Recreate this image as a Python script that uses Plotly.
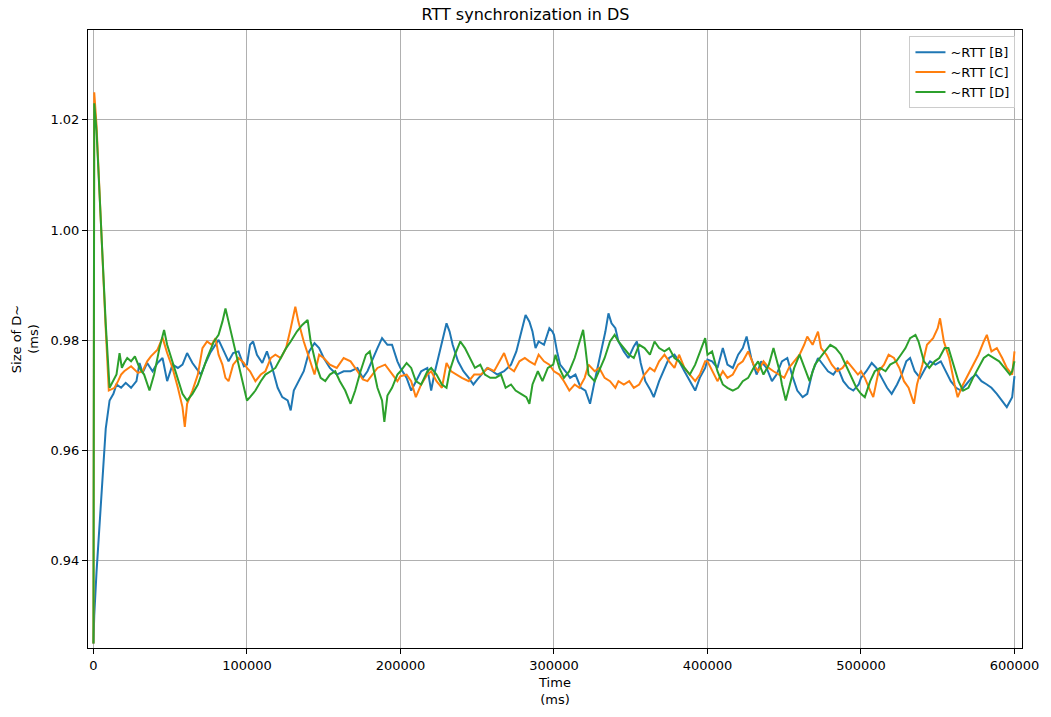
import plotly.graph_objects as go

# ~RTT [B]
b_time = [0, 500, 2000, 4000, 6000, 8000, 10500, 13000, 15000, 18000, 21000, 24500, 28000, 30000, 32000, 35000, 38500, 41700, 45000, 48000, 51500, 55000, 58000, 61000, 64500, 67000, 70000, 73000, 76000, 79500, 81500, 85000, 88000, 91000, 94500, 98000,
          100000, 102000, 104000, 106500, 110000, 113000, 116500, 120000, 123000, 126500, 128500, 130500, 133500, 137000, 140500, 144000, 147000, 150000, 154000, 158500, 163000, 167500, 172000, 175500, 178500, 182000, 185000, 188000, 191500, 194500, 198000,
          200000, 204000, 207000, 210000, 213500, 217500, 220000, 222000, 225000, 227500, 230000, 232000, 234000, 237500, 241000, 244500, 247500, 250000, 253000, 256500, 260000, 263000, 267500, 272000, 275500, 278500, 281500, 284000, 286000, 288000, 290000, 293500, 297000, 299000,
          300000, 302000, 304000, 307500, 310500, 314000, 317500, 320500, 323500, 326500, 330000, 333500, 335500, 337500, 340000, 342000, 345500, 348500, 352000, 354000, 356500, 359500, 363000, 365000, 368500, 371500, 375000, 378500, 381500, 385000, 388500, 392000, 395000, 398500,
          400000, 403000, 406500, 410000, 413000, 416500, 420000, 423000, 425500, 428500, 432000, 435000, 438500, 442000, 445000, 448500, 452000, 455000, 458500, 462000, 465000, 468500, 472000, 475000, 478500, 482000, 485000, 488500, 492000, 495000, 498500,
          500000, 503500, 507000, 510000, 513500, 517000, 520000, 523500, 526500, 529500, 532000, 535000, 538500, 542000, 545000, 548500, 552000, 555000, 558500, 562000, 565000, 568500, 572000, 575000, 578500, 582000, 585000, 588500, 592000, 595000, 598500, 600000]
b_rtt = [0.925, 0.930, 0.938, 0.947, 0.957, 0.964, 0.9691, 0.9703, 0.9720, 0.9714, 0.9723, 0.9714, 0.9726, 0.9759, 0.9741, 0.9759, 0.9744, 0.9759, 0.9768, 0.9726, 0.9756, 0.9750, 0.9756, 0.9777, 0.9759, 0.9750, 0.9738, 0.9759, 0.9777, 0.9792, 0.9801, 0.9780, 0.9762, 0.9777, 0.9780, 0.9753,
         0.9756, 0.9792, 0.9798, 0.9774, 0.9759, 0.9780, 0.9750, 0.9714, 0.9697, 0.9691, 0.9673, 0.9709, 0.9726, 0.9744, 0.9780, 0.9795, 0.9786, 0.9768, 0.9750, 0.9738, 0.9744, 0.9744, 0.9750, 0.9732, 0.9744, 0.9768, 0.9786, 0.9804, 0.9792, 0.9792, 0.9762,
         0.9750, 0.9732, 0.9709, 0.9726, 0.9744, 0.9750, 0.9709, 0.9738, 0.9774, 0.9804, 0.9831, 0.9816, 0.9792, 0.9762, 0.9744, 0.9732, 0.9720, 0.9729, 0.9738, 0.9750, 0.9744, 0.9738, 0.9744, 0.9756, 0.9780, 0.9816, 0.9846, 0.9834, 0.9816, 0.9786, 0.9798, 0.9792, 0.9822, 0.9816,
         0.9810, 0.9780, 0.9756, 0.9744, 0.9732, 0.9738, 0.9714, 0.9709, 0.9685, 0.9726, 0.9768, 0.9816, 0.9849, 0.9831, 0.9822, 0.9798, 0.9780, 0.9768, 0.9789, 0.9798, 0.9759, 0.9726, 0.9709, 0.9697, 0.9726, 0.9744, 0.9768, 0.9774, 0.9762, 0.9744, 0.9726, 0.9709, 0.9732, 0.9750,
         0.9765, 0.9762, 0.9750, 0.9786, 0.9756, 0.9750, 0.9774, 0.9786, 0.9807, 0.9768, 0.9738, 0.9762, 0.9750, 0.9726, 0.9738, 0.9762, 0.9768, 0.9738, 0.9709, 0.9697, 0.9703, 0.9744, 0.9768, 0.9756, 0.9744, 0.9738, 0.9750, 0.9726, 0.9714, 0.9709, 0.9720,
         0.9732, 0.9744, 0.9759, 0.9750, 0.9732, 0.9714, 0.9703, 0.9720, 0.9738, 0.9762, 0.9768, 0.9744, 0.9732, 0.9750, 0.9762, 0.9756, 0.9762, 0.9744, 0.9726, 0.9714, 0.9709, 0.9720, 0.9732, 0.9738, 0.9726, 0.9720, 0.9714, 0.9703, 0.9691, 0.9679, 0.9697, 0.9735]

# ~RTT [C]
c_time = [0, 500, 2000, 5000, 8000, 10000, 13700, 16000, 18000, 20000, 24500, 29000, 32000, 35000, 37400, 41700, 45000, 48000, 51500, 55000, 58000, 59500, 61000, 64500, 68000, 71000, 74000, 77000, 79500, 81500, 84000, 86000, 88000, 91000, 94500, 98000,
          100000, 102000, 105500, 109000, 112000, 115500, 118500, 122000, 125500, 128500, 131500, 133500, 137000, 140500, 144000, 147000, 150000, 154000, 158500, 163000, 167500, 172000, 175500, 178500, 182000, 185000, 190000, 194500, 198000,
          200000, 204000, 207000, 210000, 213500, 217500, 220000, 223500, 227000, 230000, 233000, 236500, 240000, 244500, 248000, 252500, 257000, 261000, 264500, 267500, 271000, 274000, 277500, 281000, 284000, 287500, 290000, 293500, 297000,
          300000, 303500, 306500, 310000, 313500, 316500, 320000, 322500, 326500, 329500, 333000, 336500, 340000, 342000, 345500, 349000, 352000, 355500, 359000, 362500, 365500, 368500, 372000, 375000, 378500, 381500, 385000, 388500, 392000, 395000, 398500,
          400000, 403000, 406500, 410000, 413000, 416500, 420000, 423000, 426500, 430000, 433000, 436500, 440000, 443000, 447000, 450000, 453000, 456500, 460000, 463000, 465000, 468500, 472000, 474000, 477500, 481000, 484500, 488000, 491000, 494500, 498000,
          500000, 502500, 506000, 508000, 511500, 515000, 518000, 521500, 525000, 528000, 531000, 534500, 536500, 540000, 543000, 547000, 550000, 551500, 554000, 557500, 561000, 563000, 566500, 570000, 573000, 576500, 580000, 582000, 585000, 588500, 592000, 595000, 598500, 600000]
c_rtt = [0.925, 1.025, 1.019, 0.999, 0.982, 0.9709, 0.9714, 0.9726, 0.9738, 0.9744, 0.9753, 0.9741, 0.9744, 0.9762, 0.9771, 0.9783, 0.9805, 0.9777, 0.9750, 0.9714, 0.9679, 0.9643, 0.9685, 0.9709, 0.9738, 0.9786, 0.9798, 0.9792, 0.9804, 0.9774, 0.9756, 0.9732, 0.9726, 0.9756, 0.9768, 0.9759,
         0.9750, 0.9744, 0.9726, 0.9738, 0.9744, 0.9768, 0.9774, 0.9768, 0.9786, 0.9822, 0.9861, 0.9834, 0.9798, 0.9768, 0.9738, 0.9774, 0.9768, 0.9756, 0.9750, 0.9768, 0.9762, 0.9744, 0.9729, 0.9726, 0.9738, 0.9750, 0.9756, 0.9738, 0.9726,
         0.9735, 0.9738, 0.9726, 0.9697, 0.9720, 0.9738, 0.9744, 0.9726, 0.9714, 0.9759, 0.9744, 0.9738, 0.9732, 0.9726, 0.9738, 0.9738, 0.9750, 0.9744, 0.9762, 0.9777, 0.9750, 0.9744, 0.9762, 0.9768, 0.9762, 0.9756, 0.9774, 0.9762, 0.9756,
         0.9744, 0.9738, 0.9726, 0.9709, 0.9720, 0.9714, 0.9732, 0.9756, 0.9744, 0.9750, 0.9732, 0.9726, 0.9714, 0.9726, 0.9720, 0.9726, 0.9714, 0.9720, 0.9738, 0.9750, 0.9744, 0.9762, 0.9774, 0.9762, 0.9750, 0.9774, 0.9750, 0.9738, 0.9726, 0.9738, 0.9762,
         0.9762, 0.9744, 0.9726, 0.9744, 0.9732, 0.9738, 0.9756, 0.9762, 0.9780, 0.9756, 0.9744, 0.9762, 0.9750, 0.9744, 0.9738, 0.9732, 0.9750, 0.9762, 0.9774, 0.9792, 0.9807, 0.9792, 0.9816, 0.9786, 0.9774, 0.9756, 0.9744, 0.9750, 0.9762, 0.9750, 0.9738,
         0.9744, 0.9732, 0.9709, 0.9697, 0.9744, 0.9756, 0.9774, 0.9768, 0.9750, 0.9726, 0.9714, 0.9685, 0.9720, 0.9756, 0.9792, 0.9804, 0.9822, 0.9840, 0.9798, 0.9768, 0.9720, 0.9697, 0.9720, 0.9738, 0.9756, 0.9774, 0.9798, 0.9810, 0.9780, 0.9786, 0.9768, 0.9750, 0.9738, 0.9780]

# ~RTT [D]
d_time = [0, 500, 2000, 5000, 8000, 10500, 13000, 15000, 17000, 18500, 20000, 22000, 24500, 27000, 30000, 33000, 36500, 39500, 43000, 46000, 48000, 51500, 55000, 58000, 61000, 64500, 68000, 71000, 74000, 78500, 81500, 84000, 86000, 88000, 91000, 94500, 98000,
          100000, 102000, 105500, 109000, 112000, 115500, 118500, 122000, 125500, 128500, 132500, 136000, 139500, 141500, 145000, 148000, 151000, 154000, 157500, 160500, 164000, 167500, 170500, 174000, 177500, 180000, 182000, 185000, 188000, 189500, 191500, 194500, 198000,
          200000, 204000, 207000, 210000, 213500, 217500, 220000, 223500, 227000, 230000, 232000, 235500, 239000, 242000, 246000, 248500, 252000, 255000, 258500, 262000, 265500, 268500, 272000, 275000, 278500, 282000, 284000, 286000, 289500, 292500, 296000, 299500,
          301000, 303500, 306500, 310000, 313500, 316500, 319000, 320500, 322500, 326500, 329500, 333000, 336500, 339500, 342000, 345500, 349000, 352000, 355500, 359000, 362500, 365500, 368500, 372000, 375000, 378500, 381500, 385000, 388500, 392000, 395000, 398500,
          400000, 403000, 406500, 410000, 413000, 416500, 420000, 423000, 426500, 430000, 433000, 436500, 440000, 443000, 447000, 448500, 451000, 453000, 456500, 460000, 463000, 466500, 470000, 473000, 476500, 480000, 483500, 487000, 490000, 493500, 497000,
          500000, 502500, 506000, 509000, 512500, 516000, 519000, 523000, 526000, 529000, 532000, 535500, 537500, 541000, 544500, 548000, 551000, 554500, 557000, 560000, 563500, 566500, 570000, 573000, 576500, 580000, 583000, 587000, 590000, 593500, 597000, 598500, 600000]
d_rtt = [0.925, 1.023, 1.018, 0.999, 0.983, 0.9714, 0.9726, 0.9738, 0.9777, 0.9750, 0.9759, 0.9768, 0.9762, 0.9771, 0.9750, 0.9738, 0.9709, 0.9738, 0.9786, 0.9819, 0.9792, 0.9762, 0.9732, 0.9703, 0.9691, 0.9703, 0.9720, 0.9744, 0.9768, 0.9798, 0.9810, 0.9834, 0.9858, 0.9834, 0.9798, 0.9756, 0.9714,
         0.9691, 0.9697, 0.9709, 0.9726, 0.9738, 0.9744, 0.9750, 0.9768, 0.9786, 0.9798, 0.9816, 0.9828, 0.9837, 0.9798, 0.9756, 0.9732, 0.9726, 0.9738, 0.9744, 0.9726, 0.9709, 0.9685, 0.9709, 0.9744, 0.9774, 0.9780, 0.9756, 0.9714, 0.9691, 0.9652, 0.9700, 0.9714, 0.9738,
         0.9744, 0.9759, 0.9750, 0.9726, 0.9720, 0.9744, 0.9750, 0.9738, 0.9720, 0.9714, 0.9744, 0.9774, 0.9798, 0.9786, 0.9762, 0.9750, 0.9756, 0.9738, 0.9732, 0.9732, 0.9738, 0.9714, 0.9720, 0.9709, 0.9703, 0.9697, 0.9685, 0.9720, 0.9744, 0.9726, 0.9750, 0.9756,
         0.9774, 0.9750, 0.9732, 0.9744, 0.9768, 0.9798, 0.9819, 0.9786, 0.9738, 0.9726, 0.9744, 0.9768, 0.9798, 0.9810, 0.9798, 0.9786, 0.9774, 0.9768, 0.9792, 0.9786, 0.9774, 0.9798, 0.9786, 0.9780, 0.9786, 0.9768, 0.9762, 0.9750, 0.9738, 0.9756, 0.9780, 0.9804,
         0.9774, 0.9780, 0.9744, 0.9720, 0.9714, 0.9709, 0.9714, 0.9726, 0.9732, 0.9750, 0.9762, 0.9738, 0.9756, 0.9786, 0.9744, 0.9720, 0.9691, 0.9714, 0.9750, 0.9774, 0.9750, 0.9726, 0.9756, 0.9768, 0.9780, 0.9792, 0.9786, 0.9774, 0.9756, 0.9738, 0.9714,
         0.9703, 0.9697, 0.9726, 0.9744, 0.9750, 0.9744, 0.9756, 0.9762, 0.9774, 0.9786, 0.9804, 0.9810, 0.9798, 0.9762, 0.9750, 0.9762, 0.9768, 0.9786, 0.9786, 0.9756, 0.9726, 0.9709, 0.9714, 0.9732, 0.9750, 0.9768, 0.9774, 0.9768, 0.9762, 0.9750, 0.9738, 0.9744, 0.9762]

series_names = ["~RTT [B]", "~RTT [C]", "~RTT [D]"]
series_colors = ["#1f77b4", "#ff7f0e", "#2ca02c"]
x_ticks = [0, 100000, 200000, 300000, 400000, 500000, 600000]
y_ticks = [0.94, 0.96, 0.98, 1.00, 1.02]

fig = go.Figure()
for t, v, name, col in zip([b_time, c_time, d_time], [b_rtt, c_rtt, d_rtt], series_names, series_colors):
    fig.add_trace(go.Scatter(x=t, y=v, mode="lines", name=name,
                             line=dict(color=col, width=2)))

axis_common = dict(showline=True, linecolor="black", linewidth=1, mirror=True,
                   ticks="outside", ticklen=5, tickcolor="black", tickwidth=1,
                   showgrid=True, gridcolor="#b0b0b0", gridwidth=0.8,
                   zeroline=False, tickfont=dict(size=13, color="black"))

fig.update_layout(
    width=1051, height=717,
    margin=dict(l=88, r=23, t=30, b=62),
    paper_bgcolor="white", plot_bgcolor="white",
    font=dict(family="DejaVu Sans", size=13, color="black"),
    title=dict(text="RTT synchronization in DS", x=0.5, xanchor="center",
               y=1 - 14 / 717, yanchor="middle", font=dict(size=16, color="black")),
    legend=dict(x=0.993, y=0.99, xanchor="right", yanchor="top",
                bgcolor="rgba(255,255,255,0.8)", bordercolor="#cccccc", borderwidth=1,
                font=dict(size=13), tracegroupgap=0),
    showlegend=True,
)
fig.update_xaxes(range=[-3560, 604900], tickvals=x_ticks, ticktext=[str(v) for v in x_ticks],
                 title=dict(text="Time<br>(ms)", standoff=6, font=dict(size=13)), **axis_common)
fig.update_yaxes(range=[0.9242, 1.0363], tickvals=y_ticks, ticktext=[f"{v:.2f}" for v in y_ticks],
                 title=dict(text="Size of D~<br>(ms)", standoff=8, font=dict(size=13)), **axis_common)

fig.write_html("out.html")
